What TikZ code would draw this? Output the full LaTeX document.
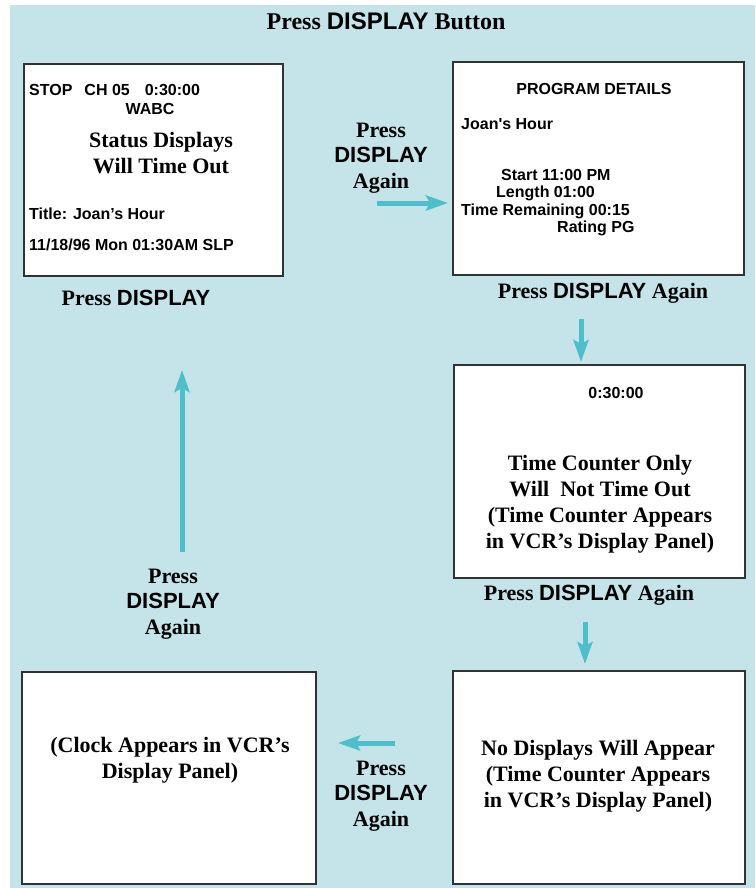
\documentclass[tikz,border=0pt]{standalone}
\usepackage{fontspec}
\setmainfont{Liberation Serif}
\setsansfont{Liberation Sans}
\usetikzlibrary{arrows.meta}
\definecolor{panelblue}{RGB}{197,228,234}
\definecolor{flowteal}{RGB}{78,190,203}
\definecolor{framegray}{RGB}{50,50,50}
\newcommand{\dispkey}{\textsf{DISPLAY}}
\tikzset{
    screen/.style={draw=framegray, line width=1.3pt, fill=white},
    lcd/.style={font=\sffamily\bfseries\fontsize{16}{18}\selectfont, inner sep=0pt},
    caption/.style={font=\bfseries\fontsize{22}{25.5}\selectfont, align=center, inner sep=0pt},
    flow/.style={draw=flowteal, line width=5pt, -{Stealth[length=22pt,width=15pt,inset=4pt]}}
}

\begin{document}
\begin{tikzpicture}[x=1pt, y=-1pt]
    \useasboundingbox (0,0) rectangle (755,888);
    \fill[panelblue] (10,5) rectangle (755,888);
    \node[caption, font=\bfseries\fontsize{24}{27}\selectfont] (title) at (386,21) {Press \dispkey{} Button};

    % the five screens
    \node[screen, minimum width=259pt, minimum height=212pt] (status) at (153.5,170) {};
    \node[screen, minimum width=291pt, minimum height=213pt] (details) at (598.5,168.5) {};
    \node[screen, minimum width=291pt, minimum height=213pt] (counter) at (599.5,471.5) {};
    \node[screen, minimum width=292pt, minimum height=213pt] (blank) at (599,777.5) {};
    \node[screen, minimum width=294pt, minimum height=212pt] (clock) at (169,778) {};

    % status screen
    \node[lcd, anchor=base west] (stopline) at (29,96) {STOP\hspace{12pt}CH 05\hspace{15pt}0:30:00};
    \node[lcd, anchor=base] (station) at (150,114) {WABC};
    \node[caption] (timeout) at (161,153) {Status Displays\\Will Time Out};
    \node[lcd, anchor=base west] (titleline) at (29,219) {Title: Joan's Hour};
    \node[lcd, anchor=base west] (dateline) at (29,250) {11/18/96 Mon 01:30AM SLP};

    % program details screen
    \node[lcd] (proghead) at (594,89) {PROGRAM DETAILS};
    \node[lcd, anchor=west] (progname) at (461,124) {Joan\textquotesingle s Hour};
    \node[lcd, anchor=west] (start) at (501,175) {Start 11:00 PM};
    \node[lcd, anchor=west] (length) at (496,193) {Length 01:00};
    \node[lcd, anchor=west] (remain) at (461,211) {Time Remaining 00:15};
    \node[lcd, anchor=west] (rating) at (557,228) {Rating PG};

    % counter screen
    \node[lcd] (count) at (616,393) {0:30:00};
    \node[caption, font=\bfseries\fontsize{22}{26}\selectfont] (countnote) at (600,504)
        {Time Counter Only\\Will\ \ Not Time Out\\(Time Counter Appears\\in VCR's Display Panel)};

    % no display and clock screens
    \node[caption, font=\bfseries\fontsize{22}{26}\selectfont] (blanknote) at (598,776)
        {No Displays Will Appear\\(Time Counter Appears\\in VCR's Display Panel)};
    \node[caption, font=\bfseries\fontsize{22}{26}\selectfont] (clocknote) at (170,760)
        {(Clock Appears in VCR's\\Display Panel)};

    % key presses
    \node[caption] (press1) at (136,298) {Press \dispkey};
    \node[caption] (press2) at (381,158) {Press\\\dispkey\\Again};
    \node[caption] (press3) at (603,293) {Press \dispkey{} Again};
    \node[caption] (press4) at (589,595) {Press \dispkey{} Again};
    \node[caption] (press5) at (381,796) {Press\\\dispkey\\Again};
    \node[caption] (press6) at (173,604) {Press\\\dispkey\\Again};

    \coordinate (r1) at (377,203);
    \coordinate (r2) at (448,203);
    \coordinate (d1) at (581,319);
    \coordinate (d2) at (581,362);
    \coordinate (e1) at (585,622);
    \coordinate (e2) at (585,664);
    \coordinate (l1) at (395,743);
    \coordinate (l2) at (338,743);
    \coordinate (u1) at (182,552);
    \coordinate (u2) at (182,370);
    \foreach \a/\b in {r1/r2, d1/d2, e1/e2, l1/l2, u1/u2}
        \draw[flow] (\a) -- (\b);
\end{tikzpicture}
\end{document}
